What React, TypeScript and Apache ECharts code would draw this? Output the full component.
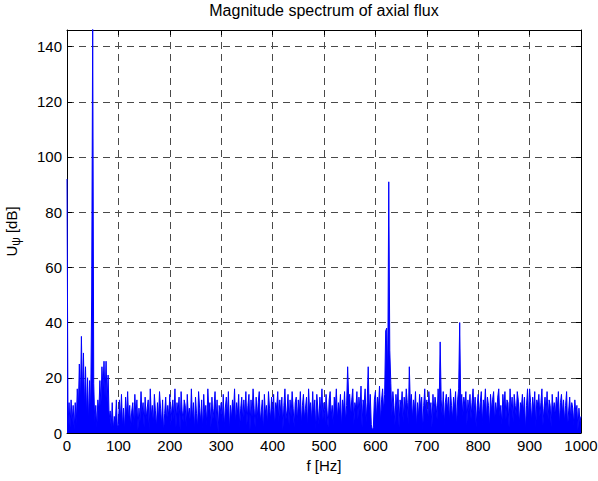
import { useEffect, useRef } from "react";
import * as echarts from "echarts";

// Frequency resolution of the spectrum (Hz between successive values)
const FREQ_STEP = 2;

// Magnitude values in dB, one per 2 Hz, each row covers 50 Hz
const band000 = [92, 3, 11, 2, 12, 4, 10, 1, 11, 3, 16, 8, 25, 10, 35, 14, 29, 9, 24, 6, 20, 4, 19, 8, 50];
const band050 = [150, 18, 4, 10, 2, 12, 8, 19, 10, 24, 16, 26, 13, 26, 11, 21, 5, 8, 2, 11, 1, 6, 3, 12, 2];
const band100 = [3, 12, 5, 14, 2, 9, 1, 13, 6, 15, 4, 10, 2, 8, 11, 3, 14, 6, 12, 1, 9, 4, 15, 7, 11];
const band150 = [2, 13, 5, 9, 12, 1, 16, 6, 10, 3, 14, 8, 2, 11, 5, 15, 9, 3, 12, 0, 7, 13, 4, 10, 6];
const band200 = [14, 3, 9, 12, 5, 16, 2, 11, 7, 13, 1, 15, 8, 4, 12, 10, 2, 14, 6, 9, 3, 16, 5, 11, 1];
const band250 = [13, 7, 2, 15, 9, 4, 12, 1, 14, 6, 10, 3, 16, 8, 11, 2, 13, 5, 9, 15, 4, 12, 0, 10, 7];
const band300 = [11, 4, 14, 2, 9, 13, 6, 15, 1, 10, 5, 12, 8, 16, 3, 11, 7, 14, 2, 9, 13, 4, 12, 6, 15];
const band350 = [3, 10, 14, 1, 12, 6, 16, 9, 2, 13, 5, 11, 15, 4, 8, 12, 0, 14, 7, 10, 3, 15, 9, 5, 13];
const band400 = [6, 14, 2, 11, 9, 15, 4, 12, 7, 13, 1, 10, 16, 5, 8, 14, 3, 12, 6, 15, 9, 2, 11, 13, 4];
const band450 = [12, 7, 15, 3, 10, 14, 5, 9, 13, 2, 16, 8, 11, 4, 15, 6, 12, 1, 14, 9, 3, 13, 7, 16, 5];
const band500 = [11, 4, 14, 8, 2, 12, 15, 6, 10, 3, 13, 9, 16, 5, 11, 7, 14, 2, 12, 8, 15, 4, 10, 24, 13];
const band550 = [14, 6, 12, 16, 3, 11, 9, 15, 5, 13, 8, 17, 2, 12, 10, 16, 4, 11, 24, 7, 14, 3, 1, 2, 12];
const band600 = [15, 5, 13, 9, 17, 4, 12, 16, 8, 14, 37, 38, 20, 91, 30, 18, 6, 15, 10, 3, 14, 8, 16, 2, 12];
const band650 = [9, 15, 4, 13, 7, 16, 11, 3, 24, 10, 14, 5, 12, 8, 15, 2, 11, 6, 14, 9, 13, 1, 10, 16, 7];
const band700 = [12, 4, 15, 8, 11, 2, 14, 7, 13, 10, 5, 16, 9, 33, 12, 6, 15, 3, 11, 14, 8, 13, 4, 16, 10];
const band750 = [5, 13, 9, 15, 2, 12, 16, 40, 11, 14, 6, 13, 10, 15, 3, 12, 8, 14, 5, 11, 16, 7, 13, 2, 10];
const band800 = [14, 6, 11, 15, 3, 12, 9, 16, 5, 13, 10, 2, 14, 8, 12, 15, 4, 11, 7, 13, 16, 6, 10, 3, 14];
const band850 = [9, 15, 5, 12, 11, 2, 16, 8, 13, 4, 14, 10, 6, 15, 12, 3, 11, 9, 14, 7, 13, 1, 10, 16, 5];
const band900 = [16, 11, 4, 13, 8, 15, 2, 12, 10, 14, 6, 11, 16, 3, 9, 13, 7, 15, 5, 12, 10, 2, 14, 8, 11];
const band950 = [6, 13, 9, 15, 3, 11, 14, 7, 12, 4, 10, 15, 2, 8, 13, 5, 11, 9, 3, 12, 7, 10, 1, 9, 4];
const band1000 = [6];

const magnitudeDb = [
  ...band000, ...band050, ...band100, ...band150, ...band200,
  ...band250, ...band300, ...band350, ...band400, ...band450,
  ...band500, ...band550, ...band600, ...band650, ...band700,
  ...band750, ...band800, ...band850, ...band900, ...band950,
  ...band1000,
];

const X_MIN = 0;
const X_MAX = 1000;
const X_INTERVAL = 100;
const Y_MIN = 0;
const Y_MAX = 146;
const Y_INTERVAL = 20;

const TITLE = "Magnitude spectrum of axial flux";
const X_NAME = "f [Hz]";

const FONT = "'Liberation Sans', Arial, Helvetica, sans-serif";
const TICK_FONT = 15;

export default function App() {
  const ref = useRef<HTMLDivElement>(null);

  useEffect(() => {
    if (!ref.current) return;
    const chart = echarts.init(ref.current, null, { renderer: "svg" });

    const seriesData = magnitudeDb.map((v, i) => [i * FREQ_STEP, v]);

    const gridLine = { color: "#4a4a4a", width: 1, type: [7, 5] as number[] };
    const blackLine = { color: "#000", width: 1 };

    chart.setOption({
      animation: false,
      backgroundColor: "#fff",
      textStyle: { fontFamily: FONT },
      title: {
        text: TITLE,
        left: 324,
        top: 2,
        padding: 0,
        textAlign: "center",
        textStyle: { fontSize: 16, fontWeight: "normal", color: "#000", fontFamily: FONT },
      },
      grid: { left: 67, right: 17, top: 30, bottom: 48, containLabel: false, outerBoundsMode: "none" },
      xAxis: [
        {
          type: "value",
          min: X_MIN,
          max: X_MAX,
          interval: X_INTERVAL,
          position: "bottom",
          name: X_NAME,
          nameLocation: "middle",
          nameGap: 25,
          nameTextStyle: { fontSize: TICK_FONT, color: "#000", fontFamily: FONT },
          axisLine: { show: true, onZero: false, lineStyle: blackLine },
          axisTick: { show: true, inside: true, length: 5, lineStyle: blackLine },
          axisLabel: {
            show: true,
            color: "#000",
            fontSize: TICK_FONT,
            margin: 5,
            fontFamily: FONT,
            formatter: (v: number) => String(v),
          },
          splitLine: { show: true, lineStyle: gridLine },
        },
        {
          type: "value",
          min: X_MIN,
          max: X_MAX,
          interval: X_INTERVAL,
          position: "top",
          axisLine: { show: true, onZero: false, lineStyle: blackLine },
          axisTick: { show: true, inside: true, length: 5, lineStyle: blackLine },
          axisLabel: { show: false },
          splitLine: { show: false },
        },
      ],
      yAxis: [
        {
          type: "value",
          min: Y_MIN,
          max: Y_MAX,
          interval: Y_INTERVAL,
          position: "left",
          name: "{u|U}{s|ψ}{u| [dB]}",
          nameLocation: "middle",
          nameRotate: 90,
          nameGap: 40,
          nameTextStyle: {
            color: "#000",
            fontFamily: FONT,
            rich: {
              u: { fontSize: TICK_FONT, color: "#000", fontFamily: FONT, lineHeight: 30, verticalAlign: "middle" },
              s: { fontSize: 12, color: "#000", fontFamily: FONT, lineHeight: 30, verticalAlign: "bottom", padding: [0, 0, 4, 0] },
            },
          },
          axisLine: { show: true, onZero: false, lineStyle: blackLine },
          axisTick: { show: true, inside: true, length: 5, lineStyle: blackLine },
          axisLabel: {
            show: true,
            color: "#000",
            fontSize: TICK_FONT,
            margin: 5,
            fontFamily: FONT,
            formatter: (v: number) => (v % Y_INTERVAL === 0 ? String(v) : ""),
          },
          splitLine: { show: true, lineStyle: gridLine },
        },
        {
          type: "value",
          min: Y_MIN,
          max: Y_MAX,
          interval: Y_INTERVAL,
          position: "right",
          axisLine: { show: true, onZero: false, lineStyle: blackLine },
          axisTick: { show: true, inside: true, length: 5, lineStyle: blackLine },
          axisLabel: { show: false },
          splitLine: { show: false },
        },
      ],
      series: [
        {
          type: "line",
          xAxisIndex: 0,
          yAxisIndex: 0,
          data: seriesData,
          showSymbol: false,
          symbol: "none",
          clip: true,
          lineStyle: { color: "#0000ff", width: 1 },
          itemStyle: { color: "#0000ff" },
          areaStyle: { color: "#0000ff", opacity: 1, origin: "start" },
          z: 3,
        },
      ],
    });

    return () => chart.dispose();
  }, []);

  return (
    <div
      ref={ref}
      style={{ position: "fixed", left: 0, top: 0, width: 598, height: 481 }}
    />
  );
}
